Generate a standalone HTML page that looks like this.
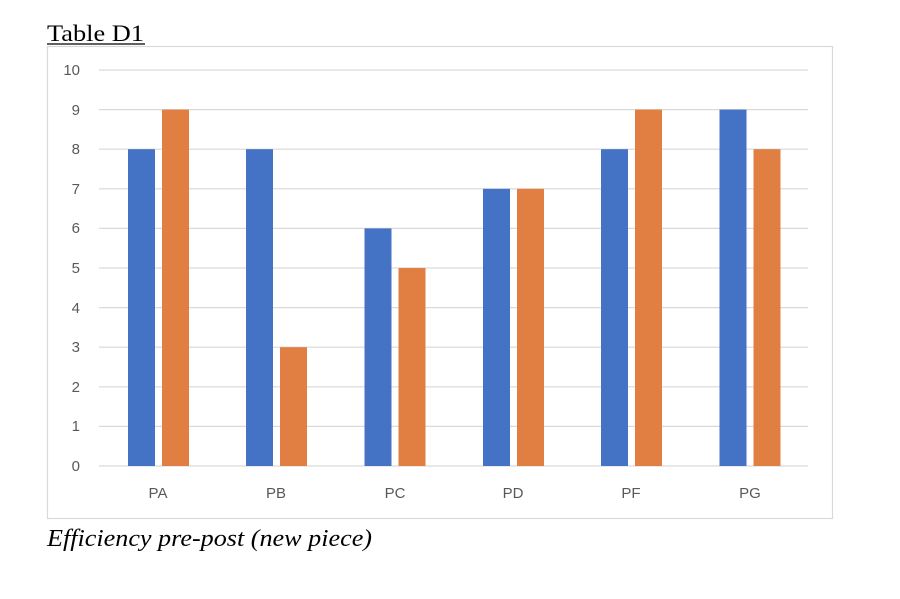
<!DOCTYPE html>
<html><head><style>
body{margin:0;background:#fff;width:900px;height:594px;overflow:hidden}
</style></head><body>
<svg width="900" height="594" xmlns="http://www.w3.org/2000/svg">
<text x="47" y="41" font-family="Liberation Serif, serif" font-size="23" fill="#000" textLength="97" lengthAdjust="spacingAndGlyphs">Table D1</text>
<line x1="47" y1="44" x2="145" y2="44" stroke="#000" stroke-width="1.2"/>
<rect x="47.5" y="46.5" width="785" height="472" fill="#fff" stroke="#d9d9d9" stroke-width="1.2"/>
<g stroke="#d9d9d9" stroke-width="1.2">
<line x1="99" x2="808" y1="70" y2="70"/><line x1="99" x2="808" y1="109.6" y2="109.6"/>
<line x1="99" x2="808" y1="149.2" y2="149.2"/><line x1="99" x2="808" y1="188.8" y2="188.8"/>
<line x1="99" x2="808" y1="228.4" y2="228.4"/><line x1="99" x2="808" y1="268" y2="268"/>
<line x1="99" x2="808" y1="307.6" y2="307.6"/><line x1="99" x2="808" y1="347.2" y2="347.2"/>
<line x1="99" x2="808" y1="386.8" y2="386.8"/><line x1="99" x2="808" y1="426.4" y2="426.4"/>
<line x1="99" x2="808" y1="466" y2="466"/>
</g>
<g font-family="Liberation Sans, sans-serif" font-size="15" fill="#595959" text-anchor="end">
<text x="80" y="75">10</text><text x="80" y="115">9</text><text x="80" y="154">8</text>
<text x="80" y="194">7</text><text x="80" y="233">6</text><text x="80" y="273">5</text>
<text x="80" y="313">4</text><text x="80" y="352">3</text><text x="80" y="392">2</text>
<text x="80" y="431">1</text><text x="80" y="471">0</text>
</g>
<g fill="#4472c4">
<rect x="128" y="149.2" width="27" height="316.8"/>
<rect x="246" y="149.2" width="27" height="316.8"/>
<rect x="364.5" y="228.4" width="27" height="237.6"/>
<rect x="483" y="188.8" width="27" height="277.2"/>
<rect x="601" y="149.2" width="27" height="316.8"/>
<rect x="719.5" y="109.6" width="27" height="356.4"/>
</g>
<g fill="#e07f41">
<rect x="162" y="109.6" width="27" height="356.4"/>
<rect x="280" y="347.2" width="27" height="118.8"/>
<rect x="398.5" y="268" width="27" height="198"/>
<rect x="517" y="188.8" width="27" height="277.2"/>
<rect x="635" y="109.6" width="27" height="356.4"/>
<rect x="753.5" y="149.2" width="27" height="316.8"/>
</g>
<g font-family="Liberation Sans, sans-serif" font-size="15" fill="#595959" text-anchor="middle">
<text x="158" y="498">PA</text><text x="276" y="498">PB</text><text x="395" y="498">PC</text>
<text x="513" y="498">PD</text><text x="631" y="498">PF</text><text x="750" y="498">PG</text>
</g>
<text x="47" y="546" font-family="Liberation Serif, serif" font-style="italic" font-size="24" fill="#000" textLength="325" lengthAdjust="spacingAndGlyphs">Efficiency pre-post (new piece)</text>
</svg>
</body></html>
